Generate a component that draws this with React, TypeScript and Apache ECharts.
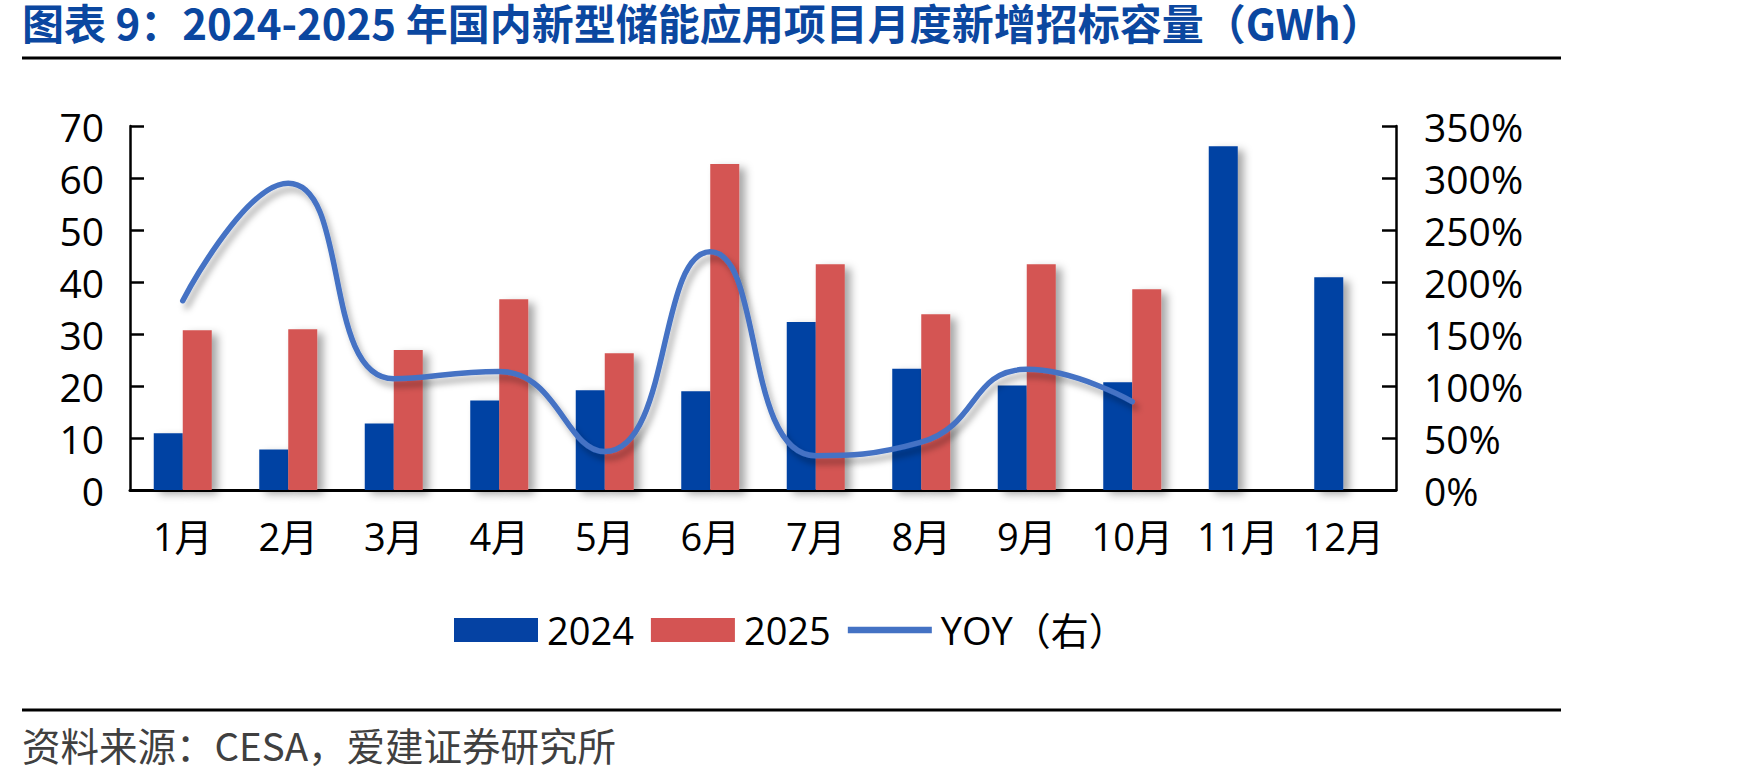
import React, { useEffect, useRef } from "react";
import * as echarts from "echarts";

const months = ["1月", "2月", "3月", "4月", "5月", "6月", "7月", "8月", "9月", "10月", "11月", "12月"];
const v2024 = [10.9, 7.8, 12.8, 17.2, 19.2, 19.0, 32.3, 23.3, 20.1, 20.7, 66.1, 40.9];
const v2025: (number | null)[] = [30.7, 30.9, 26.9, 36.7, 26.3, 62.7, 43.4, 33.8, 43.4, 38.6, null, null];
const yoy = [182, 295, 107, 114, 37, 229, 33, 46, 116, 85];
const seriesNames = ["2024", "2025", "YOY（右）"];
const titleText = "图表 9：2024-2025 年国内新型储能应用项目月度新增招标容量（GWh）";
const sourceText = "资料来源：CESA，爱建证券研究所";

const numFont = '"Open Sans", "Noto Sans CJK SC", sans-serif';

export default function App() {
  const ref = useRef<HTMLDivElement>(null);
  useEffect(() => {
    if (!ref.current) return;
    const chart = echarts.init(ref.current, null, { renderer: "svg" });
    const axisLabelStyle = { color: "#000", fontSize: 39, fontFamily: numFont };
    const barShadow = {
      shadowColor: "rgba(0,0,0,0.35)",
      shadowBlur: 8,
      shadowOffsetX: 6,
      shadowOffsetY: 4,
    };
    chart.setOption({
      animation: false,
      backgroundColor: "#fff",
      grid: { left: 130, right: 352, top: 126, bottom: 290, containLabel: false },
      legend: {
        left: 449,
        top: 606,
        itemWidth: 84,
        itemHeight: 24,
        itemGap: 17,
        textStyle: { color: "#000", fontSize: 38, fontFamily: numFont, padding: [0, 0, 0, 4] },
        data: [
          { name: seriesNames[0], icon: "rect" },
          { name: seriesNames[1], icon: "rect" },
          { name: seriesNames[2], icon: "path://M3,0 L81,0 L81,6 L3,6 Z" },
        ],
      },
      xAxis: {
        type: "category",
        data: months,
        axisLine: { lineStyle: { color: "#000", width: 3 } },
        axisTick: { inside: true, length: 14, lineStyle: { color: "#000", width: 2.5 } },
        axisLabel: { ...axisLabelStyle, fontSize: 38, margin: 27, interval: 0 },
      },
      yAxis: [
        {
          type: "value",
          min: 0,
          max: 70,
          interval: 10,
          splitLine: { show: false },
          axisLine: { show: true, lineStyle: { color: "#000", width: 2.5 } },
          axisTick: { show: true, inside: true, length: 14, lineStyle: { color: "#000", width: 2.5 } },
          axisLabel: { ...axisLabelStyle, margin: 26 },
        },
        {
          type: "value",
          min: 0,
          max: 350,
          interval: 50,
          position: "right",
          splitLine: { show: false },
          axisLine: { show: true, lineStyle: { color: "#000", width: 2.5 } },
          axisTick: { show: true, inside: true, length: 14, lineStyle: { color: "#000", width: 2.5 } },
          axisLabel: { ...axisLabelStyle, margin: 28, formatter: "{value}%" },
        },
      ],
      series: [
        {
          name: seriesNames[0],
          type: "bar",
          data: v2024,
          barWidth: 29,
          barGap: "0%",
          itemStyle: { color: "#0542A3", ...barShadow },
        },
        {
          name: seriesNames[1],
          type: "bar",
          data: v2025,
          barWidth: 29,
          barGap: "0%",
          itemStyle: { color: "#D45453", ...barShadow },
        },
        {
          name: seriesNames[2],
          type: "line",
          yAxisIndex: 1,
          data: yoy,
          smooth: 0.5,
          symbol: "none",
          lineStyle: {
            color: "#4472C4",
            width: 5.5,
            cap: "round",
            shadowColor: "rgba(0,0,0,0.3)",
            shadowBlur: 6,
            shadowOffsetX: 4,
            shadowOffsetY: 6,
          },
          itemStyle: { color: "#4472C4" },
        },
      ],
      graphic: [
        {
          type: "text",
          left: 22,
          top: 0,
          style: {
            text: titleText,
            font: 'bold 42px "Noto Sans CJK SC", sans-serif',
            fill: "#0B47A0",
          },
        },
        {
          type: "line",
          shape: { x1: 22, y1: 58, x2: 1561, y2: 58 },
          style: { stroke: "#000", lineWidth: 3 },
        },
        {
          type: "line",
          shape: { x1: 22, y1: 710, x2: 1561, y2: 710 },
          style: { stroke: "#000", lineWidth: 3 },
        },
        {
          type: "text",
          left: 22,
          top: 725,
          style: {
            text: sourceText,
            font: '38.5px "Noto Sans CJK SC", sans-serif',
            fill: "#404040",
          },
        },
      ],
    });
    return () => chart.dispose();
  }, []);
  return (
    <div
      ref={ref}
      style={{ position: "absolute", left: 0, top: 0, width: 1748, height: 780 }}
    />
  );
}
